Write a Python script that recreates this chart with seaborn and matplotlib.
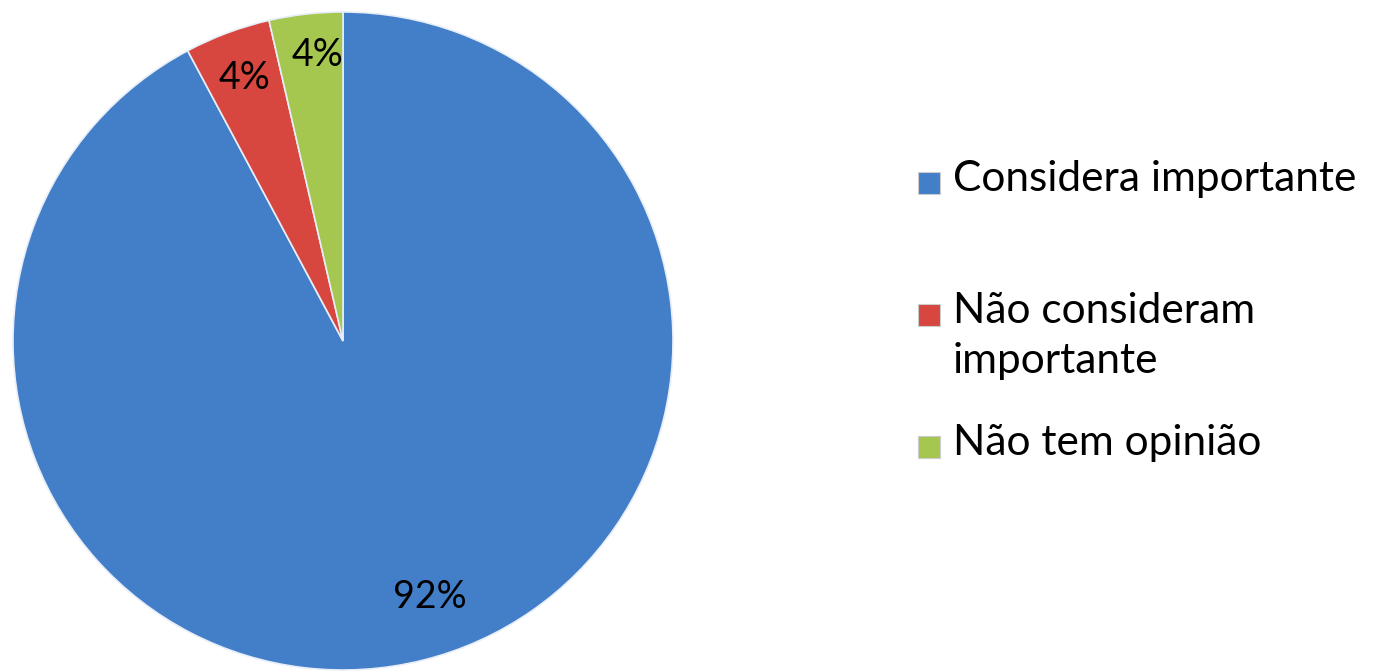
import matplotlib
matplotlib.use("Agg")
import matplotlib.pyplot as plt
from matplotlib.patches import Rectangle
import seaborn as sns

categories = ["Considera importante", "Não consideram\nimportante", "Não tem opinião"]
shares = [92.2, 4.2, 3.6]
pct_labels = ["92%", "4%", "4%"]
colors = ["#437ec9", "#d7463f", "#a5c64f"]

sns.set_theme(style="white")
plt.rcParams["font.family"] = ["Lato", "DejaVu Sans"]

W, H = 1385, 671
fig = plt.figure(figsize=(W / 100, H / 100), dpi=100)
fig.patch.set_facecolor("white")

# pie axes: centre ~(343, 341) px, radius ~330 px
ax = fig.add_axes([13 / W, 1 / H, 660 / W, 658 / H])
wedges, _ = ax.pie(shares, colors=colors, startangle=90, counterclock=False,
                   wedgeprops=dict(edgecolor="#e8eef8", linewidth=1.2))
ax.set_xlim(-1.0, 1.0)
ax.set_ylim(-1.0, 1.0)
ax.set_aspect("auto")

# percentage labels placed like the original
label_pos = [(430, 597), (245, 78), (318, 55)]
for txt, (px, py) in zip(pct_labels, label_pos):
    fig.text(px / W, 1 - py / H, txt, ha="center", va="center",
             fontsize=27, color="black")

# legend drawn by hand to match the uneven spacing
legend_y = [183, 315, 447]
for lab, col, y in zip(categories, colors, legend_y):
    fig.patches.append(Rectangle((918 / W, 1 - (y + 11) / H), 22 / W, 22 / H,
                                 transform=fig.transFigure, facecolor=col,
                                 edgecolor="#cccccc", linewidth=0.8))
    fig.text(953 / W, 1 - (y - 23) / H, lab, ha="left", va="top",
             fontsize=30.5, color="black", linespacing=1.4)

fig.savefig("out.png", dpi=100)
